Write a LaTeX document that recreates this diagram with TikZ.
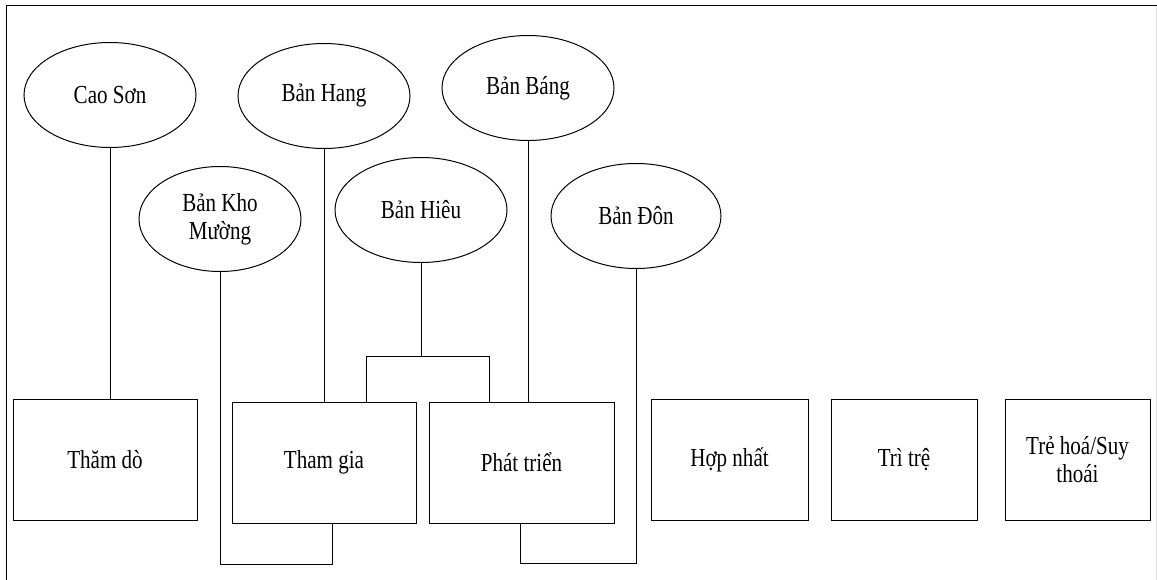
\documentclass[tikz,border=0pt]{standalone}
\usepackage{fontspec}
\setmainfont{Liberation Serif}[FakeStretch=0.81]
\usetikzlibrary{shapes.geometric}
\begin{document}
\begin{tikzpicture}[x=1pt,y=-1pt,
  conn/.style={draw=black,line width=1pt},
  village/.style={ellipse,draw,line width=1pt,minimum width=172pt,minimum height=105pt,inner sep=0pt,align=center,font=\fontsize{26}{28}\selectfont},
  stage/.style={rectangle,draw,line width=1pt,minimum height=121pt,inner sep=0pt,align=center,font=\fontsize{26}{28}\selectfont}]
\useasboundingbox (0,0) rectangle (1157,580);
% frame
\draw[line width=1pt] (6.5,580) -- (6.5,6) -- (1157,6);
\draw[black!12,line width=1.2pt] (1156.4,6) -- (1156.4,580);
% villages
\node[village] (cao)  at (110,95)  {Cao Sơn};
\node[village] (hang) at (324,96)  {Bản Hang};
\node[village] (bang) at (528,88)  {Bản Báng};
\node[village,minimum width=162pt] (kho) at (220,219) {Bản Kho\\Mường};
\node[village] (hieu) at (421,210) {Bản Hiêu};
\node[village,minimum width=170pt] (don) at (636,216) {Bản Đôn};
% stages
\node[stage,minimum width=184pt] (thamdo)    at (105,459.5)   {Thăm dò};
\node[stage,minimum width=184pt] (thamgia)   at (324,462.5)   {Tham gia};
\node[stage,minimum width=185pt] (phattrien) at (521.5,462.5) {Phát triển};
\node[stage,minimum width=157pt] (hopnhat)   at (729.5,459.5) {Hợp nhất};
\node[stage,minimum width=146pt] (tritre)    at (904,459.5)   {Trì trệ};
\node[stage,minimum width=145pt] (trehoa)    at (1077.5,459.5) {Trẻ hoá/Suy\\thoái};
% connectors
\draw[conn] (cao.south) -- (cao.south |- thamdo.north);
\draw[conn] (hang.south) -- (hang.south |- thamgia.north);
\draw[conn] (bang.south) -- (bang.south |- phattrien.north);
\coordinate (hj) at (421,356.5);
\coordinate (hl) at (366,356.5);
\coordinate (hr) at (489,356.5);
\draw[conn] (hieu.south) -- (hj);
\draw[conn] (hl |- thamgia.north) -- (hl) -- (hr) -- (hr |- phattrien.north);
\coordinate (k1) at (332,564);
\draw[conn] (kho.south) |- (k1) -- (k1 |- thamgia.south);
\coordinate (d1) at (520,563);
\draw[conn] (d1 |- phattrien.south) -- (d1) -| (don.south);
\end{tikzpicture}
\end{document}
